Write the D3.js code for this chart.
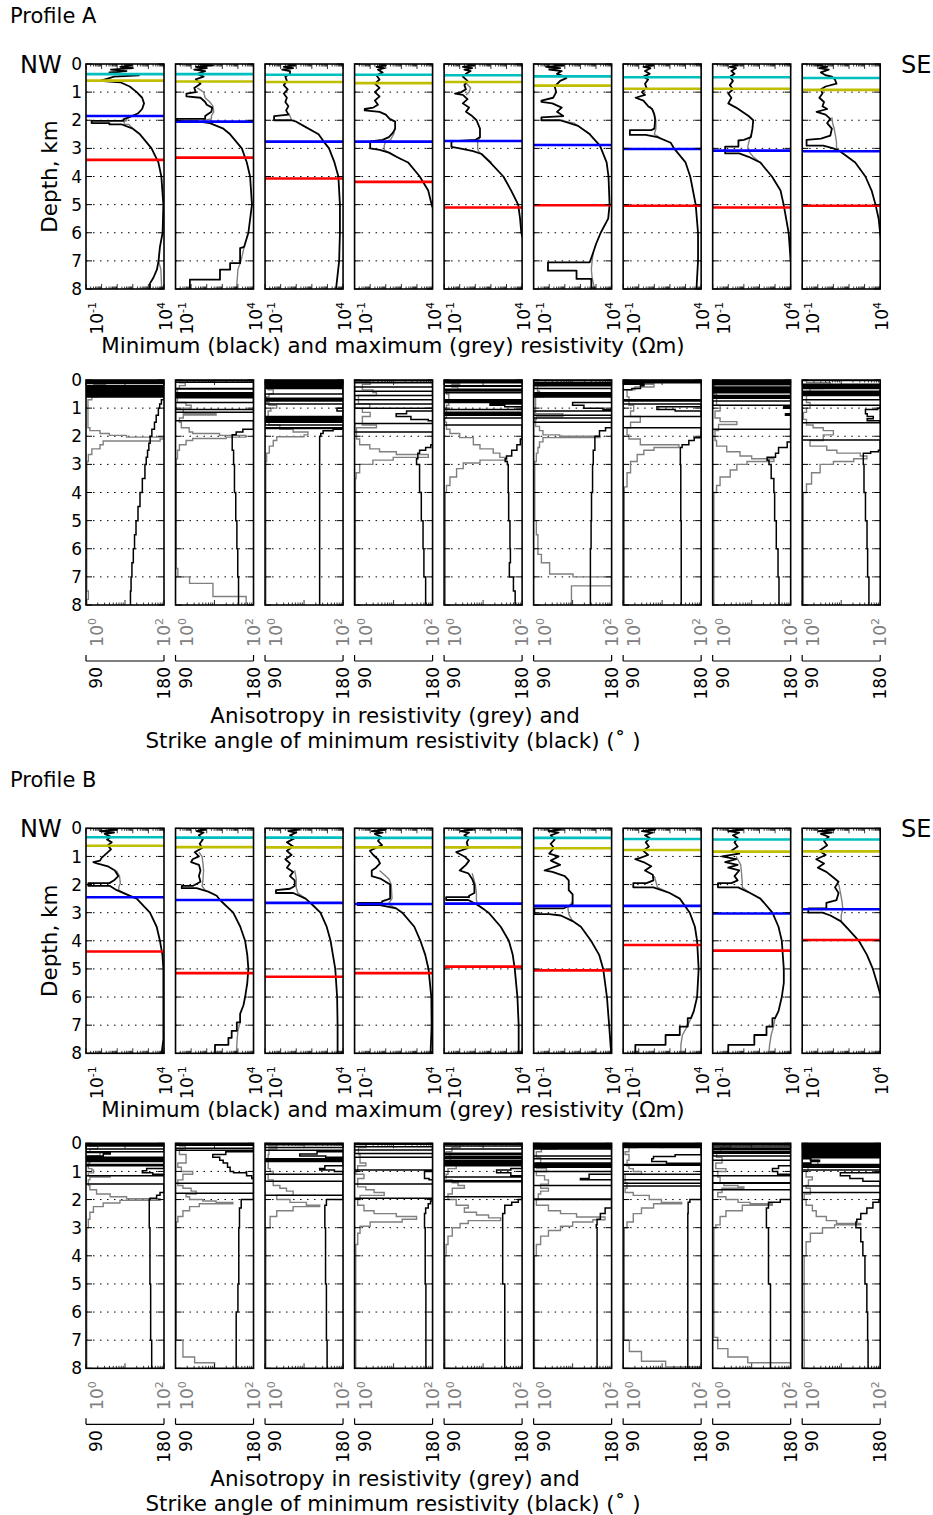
<!DOCTYPE html>
<html>
<head>
<meta charset="utf-8">
<script src="https://cdn.jsdelivr.net/npm/d3@7"></script>
<style>
body { margin: 0; background: #fff; }
text { font-family: "DejaVu Sans", sans-serif; }
</style>
</head>
<body>
<script>
// ---- data: depth (km) and log10 values ----
// minimum resistivity (black), [depth, log10 ohm-m]
var resMinA = [
  [[0,1.5],[0.05,1.9],[0.1,1.2],[0.15,2.0],[0.2,0.6],[0.25,1.6],[0.3,0.5],[0.35,1.3],[0.4,2.4],[0.45,0.8],[0.5,0.5],[0.6,-0.1],[0.65,1.2],[0.8,1.8],[1.0,2.25],[1.2,2.6],[1.4,2.72],[1.6,2.6],[1.75,2.35],[1.85,1.95],[1.97,1.4],[2.02,1.4],[2.02,-0.64],[2.1,-0.64],[2.1,0.5],[2.15,0.5],[2.15,1.3],[2.3,2.0],[2.5,2.46],[3.0,3.2],[3.5,3.64],[4.0,3.83],[5.0,3.96],[6.0,3.91],[6.5,3.74],[7.0,3.65],[7.3,3.55],[7.6,3.32],[7.8,3.1],[8.0,3.1]],
  [[0,0.5],[0.05,1.4],[0.1,0.3],[0.15,1.0],[0.2,0.2],[0.25,0.9],[0.35,0.4],[0.45,0.8],[0.55,0.3],[0.7,0.6],[0.85,0.2],[1.0,0.3],[1.05,-0.3],[1.15,-0.3],[1.2,0.6],[1.35,0.9],[1.45,1.0],[1.55,1.35],[1.7,1.3],[1.85,0.9],[1.95,0.9],[1.95,-0.93],[2.03,-0.93],[2.03,0.3],[2.1,1.2],[2.3,2.07],[2.5,2.5],[3.0,3.25],[3.5,3.57],[4.0,3.78],[5.0,3.9],[6.0,3.67],[6.5,3.4],[6.55,3.14],[7.08,3.14],[7.08,2.5],[7.31,2.5],[7.31,1.85],[7.67,1.85],[7.67,-0.08],[8.0,-0.08]],
  [[0,0.5],[0.05,0.9],[0.1,0.2],[0.15,0.8],[0.2,0.1],[0.25,0.6],[0.35,0.6],[0.45,0.3],[0.6,0.4],[0.75,0.2],[0.9,0.45],[1.05,0.2],[1.2,0.4],[1.35,0.3],[1.5,0.5],[1.65,0.35],[1.8,0.5],[1.85,-0.42],[2.0,-0.42],[2.0,0.7],[2.05,1.0],[2.2,1.47],[2.5,2.43],[2.75,2.75],[3.0,3.1],[3.5,3.45],[4.0,3.7],[5.0,3.8],[6.0,3.8],[7.0,3.75],[8.0,3.55]],
  [[0,0.6],[0.05,1.0],[0.1,0.4],[0.15,0.9],[0.2,0.5],[0.3,0.8],[0.4,0.4],[0.55,0.6],[0.7,0.3],[0.85,0.6],[1.0,0.3],[1.15,0.6],[1.3,0.3],[1.45,0.5],[1.55,0.2],[1.6,-0.35],[1.65,-0.35],[1.7,0.6],[1.8,1.0],[1.95,1.25],[2.05,1.6],[2.3,1.6],[2.45,1.45],[2.6,1.2],[2.7,0.8],[2.75,0.0],[3.0,0.0],[3.05,0.61],[3.15,1.2],[3.3,1.68],[3.5,2.43],[4.0,3.18],[4.5,3.72],[5.0,3.94],[5.4,4.2]],
  [[0,0.5],[0.05,0.9],[0.1,0.2],[0.15,0.8],[0.2,0.3],[0.25,0.7],[0.35,0.4],[0.45,0.2],[0.6,0.5],[0.75,0.3],[0.9,0.4],[1.0,0.1],[1.05,-0.3],[1.1,0.2],[1.25,0.5],[1.4,0.2],[1.55,0.6],[1.7,0.4],[1.85,0.8],[2.0,1.08],[2.3,1.3],[2.6,1.3],[2.7,1.0],[2.75,-0.53],[2.95,-0.53],[3.0,0.0],[3.1,0.86],[3.2,1.4],[3.5,1.95],[4.0,2.8],[4.5,3.3],[5.0,3.75],[5.5,3.87],[6.0,3.95],[6.3,4.1]],
  [[0,0.3],[0.05,0.9],[0.1,-0.2],[0.15,0.7],[0.2,0.0],[0.25,0.8],[0.35,0.5],[0.45,1.0],[0.5,1.1],[0.6,0.7],[0.8,0.35],[1.0,0.45],[1.2,0.25],[1.3,-0.5],[1.35,-0.5],[1.4,0.2],[1.55,0.8],[1.7,0.5],[1.85,0.9],[1.9,-0.5],[2.0,-0.5],[2.0,0.7],[2.2,1.85],[2.5,2.6],[2.9,3.25],[3.5,3.68],[4.0,3.8],[5.0,3.87],[5.5,3.78],[6.0,3.3],[6.4,3.0],[6.7,2.82],[7.05,2.6],[7.05,-0.08],[7.35,-0.08],[7.35,1.75],[7.64,1.75],[7.64,2.7],[8.0,2.7]],
  [[0,0.5],[0.05,0.9],[0.1,0.3],[0.15,0.75],[0.25,0.4],[0.35,0.7],[0.45,0.3],[0.55,0.6],[0.7,0.4],[0.85,0.5],[1.0,0.2],[1.1,0.4],[1.2,-0.2],[1.3,0.3],[1.5,0.6],[1.6,0.86],[1.8,1.0],[2.0,1.05],[2.3,1.0],[2.35,0.8],[2.35,-0.57],[2.52,-0.57],[2.52,0.44],[2.6,1.2],[2.8,2.05],[3.0,2.26],[3.5,3.0],[4.0,3.3],[5.0,3.65],[6.0,3.8],[7.0,3.8],[8.0,3.7]],
  [[0,0.3],[0.05,0.6],[0.1,0.1],[0.15,0.5],[0.25,0.2],[0.35,0.4],[0.45,0.1],[0.6,0.3],[0.75,0.1],[0.9,0.3],[1.05,0.0],[1.2,0.2],[1.4,0.0],[1.55,0.5],[1.7,0.9],[1.85,1.3],[2.0,1.6],[2.3,1.55],[2.6,1.45],[2.7,1.0],[2.72,0.65],[2.94,0.65],[2.94,-0.2],[3.18,-0.2],[3.18,0.7],[3.3,1.3],[3.5,2.05],[4.0,2.8],[4.5,3.35],[5.0,3.55],[6.0,3.87],[7.0,4.0],[7.5,4.2]],
  [[0,0.3],[0.05,0.0],[0.1,0.6],[0.15,0.1],[0.2,0.7],[0.3,0.2],[0.4,0.5],[0.45,0.9],[0.55,1.1],[0.7,1.2],[0.8,0.5],[0.9,0.2],[1.05,0.3],[1.2,0.1],[1.35,0.4],[1.5,0.3],[1.6,0.6],[1.7,-0.08],[1.8,0.5],[1.95,0.8],[2.1,0.6],[2.3,0.9],[2.55,0.8],[2.65,0.2],[2.7,-0.72],[2.9,-0.72],[2.9,0.35],[3.0,1.0],[3.1,1.42],[3.5,2.4],[4.0,3.05],[4.5,3.45],[5.0,3.7],[5.5,3.9],[6.3,4.05]]
];
// maximum resistivity (grey), only the stretches where it leaves the black curve
var resMaxA = [
  [[[1.85,1.95],[1.95,1.6],[2.02,1.6],[2.02,1.45],[2.15,1.45],[2.15,1.75],[2.3,2.0]],[[7.0,3.65],[7.3,3.8],[8.0,3.85]]],
  [[[0.85,0.4],[1.0,0.8],[1.2,0.9],[1.35,1.2],[1.5,1.4],[1.7,1.45],[1.85,1.3],[1.95,1.3],[2.0,0.8],[2.1,1.2]],[[6.5,3.4],[7.0,3.2],[7.3,3.0],[7.7,2.95],[8.0,2.9]]],
  [[[1.75,0.5],[1.85,0.6],[2.0,0.7]]],
  [[[2.3,1.6],[2.5,1.5],[2.7,1.3],[2.75,1.0],[2.9,0.9],[3.05,0.9],[3.2,1.4],[3.4,2.0]]],
  [[[0.7,0.45],[0.85,0.7],[1.0,0.6],[1.1,0.4]],[[2.6,1.3],[2.75,1.15],[3.0,1.15],[3.1,1.2],[3.3,1.6],[3.5,2.05]]],
  [[[2.0,0.7],[2.1,1.6],[2.3,2.1],[2.5,2.65]],[[6.7,2.82],[7.0,2.75],[7.3,2.7],[7.6,2.75],[8.0,2.9]]],
  [[[1.5,0.7],[1.7,0.95],[2.0,1.1],[2.3,1.1],[2.5,1.0],[2.6,1.3]]],
  [[[2.5,1.45],[2.7,1.35],[2.95,1.25],[3.1,1.3],[3.3,1.6],[3.5,2.05]]],
  [[[1.9,0.9],[2.1,0.95],[2.3,1.05],[2.6,1.15],[2.8,1.2],[3.0,1.2],[3.1,1.42]]]
];
var resMinB = [
  [[0,0.4],[0.05,1.0],[0.1,-0.1],[0.15,0.8],[0.2,0.2],[0.3,0.6],[0.4,0.35],[0.5,0.65],[0.6,0.4],[0.75,0.6],[0.9,0.3],[1.05,0.0],[1.15,-0.1],[1.2,-0.53],[1.25,-0.3],[1.35,0.4],[1.5,0.85],[1.7,1.07],[1.85,0.8],[1.95,0.5],[1.95,-0.85],[2.05,-0.85],[2.05,0.54],[2.2,0.97],[2.35,1.6],[2.5,2.25],[3.0,3.1],[3.5,3.53],[4.0,3.74],[4.5,3.9],[5.0,3.96],[7.5,3.96],[8.0,3.85]],
  [[0,0.5],[0.05,0.9],[0.1,0.35],[0.15,0.8],[0.25,0.5],[0.4,0.75],[0.55,0.55],[0.7,0.7],[0.85,0.23],[1.0,0.5],[1.1,0.1],[1.2,0.0],[1.3,0.5],[1.5,0.6],[1.7,0.5],[1.9,0.6],[2.05,0.1],[2.05,-0.6],[2.13,-0.6],[2.13,0.35],[2.25,1.1],[2.4,1.64],[2.55,1.85],[3.0,2.7],[3.5,3.15],[4.0,3.46],[4.5,3.6],[5.0,3.67],[5.5,3.6],[6.0,3.46],[6.3,3.35],[6.6,3.14],[6.9,3.14],[6.9,2.93],[7.2,2.93],[7.2,2.6],[7.45,2.6],[7.45,2.39],[7.7,2.39],[7.7,1.53],[8.0,1.53]],
  [[0,0.8],[0.05,1.2],[0.1,0.5],[0.15,1.0],[0.25,0.6],[0.35,0.9],[0.5,0.4],[0.65,0.8],[0.8,0.4],[0.95,0.7],[1.1,0.3],[1.25,0.6],[1.4,0.4],[1.55,0.8],[1.7,0.6],[1.85,0.9],[2.05,0.9],[2.15,0.6],[2.2,-0.3],[2.3,-0.3],[2.3,0.8],[2.5,1.6],[2.7,2.0],[3.0,2.55],[3.5,2.95],[4.0,3.2],[5.0,3.5],[6.0,3.62],[7.0,3.65],[8.0,3.65]],
  [[0,0.5],[0.05,1.0],[0.1,0.1],[0.15,0.8],[0.2,0.3],[0.3,0.7],[0.45,0.5],[0.6,0.76],[0.8,-0.02],[0.95,0.2],[1.1,0.5],[1.25,0.63],[1.4,0.37],[1.5,0.1],[1.7,0.1],[1.8,0.7],[2.0,1.28],[2.5,1.28],[2.6,0.76],[2.65,0.76],[2.65,-0.8],[2.73,-0.8],[2.73,0.63],[2.85,1.67],[3.0,2.06],[3.5,2.83],[4.0,3.22],[4.5,3.53],[5.0,3.74],[6.0,3.92],[7.0,3.94],[8.0,3.87]],
  [[0,0.3],[0.05,0.8],[0.1,0.05],[0.15,0.6],[0.25,0.3],[0.35,0.6],[0.5,0.45],[0.7,0.55],[0.85,-0.22],[1.0,0.3],[1.15,0.6],[1.3,0.4],[1.5,0.0],[1.6,0.55],[1.8,0.8],[2.0,0.94],[2.3,0.94],[2.4,0.6],[2.45,0.6],[2.45,-0.87],[2.55,-0.87],[2.55,0.55],[2.7,1.07],[2.9,1.6],[3.0,1.85],[3.5,2.63],[4.0,3.15],[4.5,3.4],[5.0,3.53],[6.0,3.7],[7.0,3.78],[8.0,3.78]],
  [[0,0.2],[0.05,0.7],[0.1,-0.04],[0.15,0.6],[0.25,0.1],[0.4,0.35],[0.55,0.09],[0.7,0.3],[0.9,0.0],[1.0,0.6],[1.15,0.1],[1.3,0.7],[1.5,-0.3],[1.55,0.2],[1.7,1.0],[1.85,1.25],[2.2,1.25],[2.35,1.5],[2.7,1.5],[2.85,0.9],[2.85,-0.95],[3.05,-0.95],[3.05,0.0],[3.1,0.74],[3.3,1.5],[3.5,2.03],[4.0,2.68],[4.5,3.2],[5.0,3.46],[6.0,3.7],[7.0,3.84],[8.0,3.97]],
  [[0,0.6],[0.05,1.07],[0.1,0.2],[0.15,0.9],[0.25,0.4],[0.35,0.7],[0.5,0.45],[0.65,0.65],[0.8,0.3],[0.95,0.6],[1.05,0.1],[1.1,-0.22],[1.2,0.3],[1.35,0.8],[1.5,0.4],[1.65,0.9],[1.85,0.94],[1.95,0.5],[1.95,-0.35],[2.1,-0.35],[2.1,0.94],[2.3,1.98],[2.5,2.63],[3.0,3.27],[3.5,3.6],[4.0,3.74],[5.0,3.84],[6.0,3.74],[6.5,3.53],[6.75,3.35],[6.75,3.14],[7.05,3.14],[7.05,2.63],[7.35,2.63],[7.35,1.72],[7.7,1.72],[7.7,-0.22],[8.0,-0.22]],
  [[0,0.3],[0.05,0.9],[0.1,0.0],[0.15,0.7],[0.25,0.3],[0.35,0.6],[0.5,0.4],[0.65,0.6],[0.8,0.2],[0.9,0.7],[1.0,-0.4],[1.1,0.5],[1.2,-0.2],[1.3,0.6],[1.4,0.0],[1.5,0.7],[1.7,0.4],[1.85,0.6],[1.95,0.2],[1.95,-0.66],[2.1,-0.66],[2.1,0.63],[2.3,1.4],[2.5,2.06],[3.0,2.83],[3.5,3.22],[4.0,3.43],[5.0,3.56],[5.5,3.56],[6.0,3.43],[6.5,3.22],[6.75,3.0],[6.75,2.83],[7.05,2.83],[7.05,2.45],[7.35,2.45],[7.35,1.67],[7.7,1.67],[7.7,0.0],[8.0,0.0]],
  [[0,0.5],[0.05,1.07],[0.1,0.04],[0.15,0.9],[0.2,0.2],[0.3,0.7],[0.45,0.4],[0.6,0.6],[0.8,0.1],[0.95,0.5],[1.1,-0.1],[1.25,0.4],[1.4,0.0],[1.55,0.55],[1.75,1.0],[1.9,1.33],[2.1,1.1],[2.3,1.33],[2.55,1.2],[2.65,0.55],[2.85,0.55],[2.85,-0.61],[3.0,-0.61],[3.0,0.3],[3.1,0.81],[3.3,1.46],[3.6,1.98],[4.0,2.63],[4.5,3.15],[5.0,3.53],[5.5,3.8],[5.9,4.0],[6.2,4.2]]
];
var resMaxB = [
  [[[1.5,0.95],[1.7,1.15],[1.95,1.2],[2.1,1.1],[2.2,1.1],[2.35,1.6]]],
  [[[0.85,0.5],[1.0,0.7],[1.2,0.75],[1.5,0.8],[1.9,0.75],[2.05,0.7],[2.2,0.9]],[[6.9,3.14],[7.2,3.0],[7.5,2.95],[8.0,2.9]]],
  [[[1.5,0.9],[1.8,1.0],[2.1,1.0],[2.3,1.1],[2.5,1.6]]],
  [[[1.5,0.6],[1.8,1.2],[2.0,1.35],[2.5,1.4],[2.7,1.15],[2.85,1.67]]],
  [[[1.6,0.8],[2.0,1.0],[2.3,1.07],[2.55,1.07],[2.7,1.15],[2.9,1.6]]],
  [[[2.6,1.5],[2.85,1.2],[3.05,1.25],[3.2,1.4],[3.3,1.5]]],
  [[[1.7,1.0],[1.9,1.1],[2.1,1.2],[2.3,1.98]],[[6.75,3.35],[7.05,3.1],[7.35,2.8],[7.7,2.7],[8.0,2.7]]],
  [[[1.0,0.5],[1.3,0.8],[1.6,0.85],[1.95,0.9],[2.1,0.9],[2.3,1.4]],[[6.75,3.0],[7.05,2.9],[7.35,2.75],[7.7,2.65],[8.0,2.6]]],
  [[[2.0,1.35],[2.3,1.45],[2.6,1.55],[2.85,1.6],[3.1,1.5],[3.3,1.5],[3.6,1.98]]]
];

// horizon depths (km) per panel
var cyanA  = [0.36, 0.36, 0.38, 0.38, 0.40, 0.44, 0.47, 0.47, 0.50];
var oliveA = [0.59, 0.62, 0.64, 0.68, 0.64, 0.77, 0.88, 0.88, 0.92];
var blueA  = [1.85, 2.05, 2.76, 2.76, 2.74, 2.88, 3.02, 3.08, 3.10];
var redA   = [3.41, 3.33, 4.07, 4.19, 5.10, 5.02, 5.04, 5.10, 5.04];
var cyanB  = [0.32, 0.33, 0.33, 0.34, 0.34, 0.34, 0.38, 0.40, 0.40];
var oliveB = [0.62, 0.67, 0.68, 0.68, 0.68, 0.71, 0.77, 0.83, 0.82];
var blueB  = [2.45, 2.55, 2.65, 2.69, 2.68, 2.76, 2.76, 3.03, 2.88];
var redB   = [4.38, 5.15, 5.28, 5.15, 4.92, 5.05, 4.15, 4.35, 3.97];

// anisotropy (grey), layer tops [depth, log10 ratio]
var anisoA = [
  [[0,0.1],[0.1,0.5],[0.15,0.2],[0.25,0.9],[0.3,0.1],[0.4,0.96],[0.45,0.3],[0.6,0.15],[0.7,0.05],[1.7,0.1],[1.8,0.36],[1.9,0.6],[1.97,1.04],[2.03,2.0],[2.1,1.9],[2.17,0.44],[2.3,0.36],[2.45,0.15],[2.65,0.06],[2.9,0.02],[7.5,0.06],[7.8,0.02]],
  [[0,0.1],[0.1,0.25],[0.2,0.1],[0.3,0.05],[0.8,0.27],[0.9,0.4],[1.0,0.2],[1.2,1.04],[1.25,0.2],[1.35,0.1],[1.5,0.15],[1.7,0.35],[1.85,0.44],[1.9,1.13],[1.97,1.8],[2.03,1.3],[2.08,0.44],[2.15,0.27],[2.3,0.1],[2.5,0.05],[2.8,0.02],[6.7,0.06],[7.0,0.36],[7.23,0.96],[7.7,1.81]],
  [[0,0.1],[0.1,0.2],[0.2,0.08],[0.35,0.21],[0.5,0.1],[0.6,0.04],[0.8,0.1],[0.9,0.3],[1.0,0.15],[1.1,0.08],[1.4,0.21],[1.5,0.1],[1.6,0.38],[1.75,0.72],[1.85,1.1],[1.95,1.0],[2.02,0.3],[2.15,0.21],[2.35,0.11],[2.6,0.04],[2.9,0.02]],
  [[0,0.05],[0.05,0.4],[0.15,0.2],[0.35,0.47],[0.45,0.56],[0.55,0.1],[0.85,0.39],[1.0,0.2],[1.15,0.4],[1.3,0.2],[1.6,0.56],[1.7,0.05],[2.1,0.13],[2.3,0.39],[2.45,0.64],[2.55,1.07],[2.65,1.89],[2.75,0.99],[2.85,0.47],[3.0,0.13],[3.3,0.04],[3.5,0.02]],
  [[0,0.1],[0.1,0.4],[0.15,0.2],[0.25,0.35],[0.35,0.06],[0.5,0.12],[0.9,0.06],[1.35,0.02],[1.5,0.06],[1.75,0.15],[1.9,0.4],[2.05,0.75],[2.3,0.92],[2.45,1.26],[2.6,1.43],[2.75,1.6],[2.85,0.92],[2.95,0.49],[3.15,0.32],[3.45,0.15],[3.75,0.06],[4.0,0.03]],
  [[0,0.1],[0.1,0.3],[0.2,0.1],[0.4,0.15],[0.5,0.25],[0.6,0.05],[1.2,0.75],[1.3,0.07],[1.4,0.05],[1.65,0.15],[1.8,0.24],[1.95,0.67],[2.0,1.7],[2.05,0.24],[2.2,0.15],[2.4,0.11],[2.6,0.07],[2.9,0.03],[5.0,0.07],[5.5,0.11],[6.2,0.2],[6.5,0.41],[6.9,1.01],[7.0,2.0],[7.32,0.97]],
  [[0,0.1],[0.05,0.79],[0.1,0.3],[0.15,0.79],[0.25,0.3],[0.35,0.1],[0.6,0.15],[0.9,0.27],[1.1,0.19],[1.3,0.44],[1.5,0.19],[1.7,0.1],[1.95,0.15],[2.1,0.44],[2.3,1.43],[2.4,0.79],[2.5,0.53],[2.65,0.36],[2.9,0.19],[3.3,0.1],[3.8,0.03]],
  [[0,0.05],[0.5,0.1],[0.9,0.19],[1.1,0.06],[1.35,0.19],[1.48,0.62],[1.58,0.15],[1.8,0.06],[2.15,0.1],[2.35,0.36],[2.55,0.7],[2.7,1.0],[2.8,1.57],[2.9,0.88],[3.0,0.62],[3.2,0.45],[3.45,0.19],[3.75,0.1],[4.0,0.03]],
  [[0,0.11],[0.1,0.72],[0.2,0.54],[0.3,0.2],[0.45,0.11],[0.8,0.2],[1.0,0.11],[1.15,0.03],[1.4,0.11],[1.6,0.28],[1.7,0.54],[1.8,0.8],[1.95,0.54],[2.15,0.2],[2.35,0.63],[2.5,0.89],[2.6,1.49],[2.7,1.66],[2.8,1.32],[2.9,0.8],[3.0,0.46],[3.3,0.24],[3.7,0.11],[4.0,0.03]]
];
var anisoB = [
  [[0,0.1],[0.1,0.3],[0.2,0.1],[0.3,0.36],[0.45,0.1],[0.7,0.06],[0.9,0.15],[0.95,0.19],[1.05,0.06],[1.15,0.62],[1.2,0.1],[1.3,0.06],[1.5,0.1],[1.65,0.27],[1.8,0.62],[1.9,1.04],[1.97,1.9],[2.03,0.87],[2.12,0.44],[2.25,0.19],[2.45,0.1],[2.7,0.06],[3.0,0.02]],
  [[0,0.1],[0.1,0.25],[0.2,0.1],[0.4,0.27],[0.7,0.06],[0.85,0.15],[1.0,0.44],[1.1,0.19],[1.3,0.06],[1.5,0.19],[1.6,0.4],[1.7,0.53],[1.8,0.27],[1.9,0.36],[2.0,0.7],[2.05,1.04],[2.1,1.47],[2.15,0.61],[2.25,0.36],[2.4,0.19],[2.6,0.06],[2.8,0.02],[7.0,0.19],[7.6,0.49],[7.8,1.0]],
  [[0,0.1],[0.1,0.3],[0.2,0.1],[0.4,0.08],[0.9,0.13],[1.0,0.21],[1.1,0.08],[1.3,0.21],[1.5,0.38],[1.6,0.55],[1.7,0.72],[1.85,0.3],[2.0,0.64],[2.1,1.06],[2.2,1.4],[2.25,0.72],[2.4,0.3],[2.6,0.13],[3.0,0.02]],
  [[0,0.03],[0.05,0.29],[0.15,0.1],[0.4,0.14],[0.7,0.29],[0.8,0.08],[1.0,0.03],[1.1,0.24],[1.25,0.08],[1.55,0.29],[1.65,0.5],[1.75,0.76],[1.85,0.14],[2.0,0.08],[2.2,0.24],[2.4,0.5],[2.5,1.07],[2.6,1.59],[2.7,1.22],[2.8,0.4],[2.95,0.14],[3.2,0.08],[3.6,0.03]],
  [[0,0.05],[0.05,0.41],[0.15,0.2],[0.3,0.05],[0.4,0.16],[0.7,0.31],[0.9,0.1],[1.1,0.05],[1.3,0.21],[1.4,0.36],[1.5,0.52],[1.6,0.21],[1.8,0.1],[2.0,0.31],[2.2,0.62],[2.3,0.52],[2.45,0.83],[2.55,1.14],[2.65,1.45],[2.75,0.62],[2.85,0.41],[3.0,0.21],[3.3,0.1],[3.6,0.05],[4.0,0.02]],
  [[0,0.07],[0.1,0.59],[0.2,0.2],[0.3,0.07],[0.5,0.18],[0.7,0.07],[0.9,0.33],[1.0,0.07],[1.15,0.28],[1.3,0.38],[1.45,0.18],[1.6,0.38],[1.7,0.18],[1.8,0.12],[2.0,0.07],[2.2,0.38],[2.4,0.69],[2.5,1.1],[2.62,1.83],[2.72,1.52],[2.8,1.0],[2.95,0.69],[3.1,0.38],[3.3,0.18],[3.6,0.07],[4.0,0.02]],
  [[0,0.05],[0.05,0.36],[0.15,0.15],[0.3,0.05],[0.4,0.15],[0.6,0.1],[0.8,0.15],[0.9,0.26],[1.0,0.47],[1.1,0.05],[1.4,0.1],[1.6,0.05],[1.75,0.26],[1.85,0.67],[2.0,0.98],[2.1,1.5],[2.15,0.78],[2.3,0.47],[2.5,0.26],[2.8,0.1],[3.0,0.03],[7.0,0.16],[7.4,0.47],[7.75,1.09],[7.95,2.0]],
  [[0,0.05],[0.05,0.45],[0.15,0.2],[0.3,0.1],[0.5,0.24],[0.7,0.08],[0.9,0.34],[1.0,0.13],[1.2,0.19],[1.4,0.29],[1.5,0.65],[1.55,0.8],[1.6,0.24],[1.75,0.13],[1.9,0.34],[2.0,0.65],[2.1,0.96],[2.15,1.53],[2.2,0.76],[2.4,0.34],[2.6,0.19],[2.9,0.08],[3.0,0.03],[6.9,0.13],[7.3,0.39],[7.6,0.9],[7.8,2.0]],
  [[0,0.1],[0.2,0.3],[0.4,0.2],[0.6,0.4],[0.8,0.15],[1.0,0.1],[1.2,0.26],[1.3,0.16],[1.5,0.1],[1.6,0.21],[1.8,0.05],[2.0,0.1],[2.2,0.26],[2.4,0.36],[2.6,0.62],[2.75,0.88],[2.85,1.5],[2.9,0.83],[3.0,0.52],[3.2,0.21],[3.5,0.1],[4.0,0.05]]
];

// strike angle of minimum resistivity (black), layer tops [depth, degrees]
var strikeA = [
  [[0,180],[0.02,90],[0.05,180],[0.08,90],[0.12,180],[0.2,90],[0.25,180],[0.3,90],[0.35,180],[0.38,90],[0.41,180],[0.45,90],[0.5,180],[0.55,90],[0.6,180],[0.7,177],[0.85,175],[1.0,173.5],[1.25,171],[1.5,169],[1.75,166],[2.0,164],[2.25,162.5],[2.5,161],[2.75,159.5],[3.0,158],[3.5,155],[4.0,152.3],[4.5,150],[5.0,147.7],[5.5,146],[6.0,144.6],[6.5,143],[7.0,142],[7.5,141.3],[8.0,140.8]],
  [[0,180],[0.02,90],[0.08,180],[0.3,90],[0.32,180],[0.45,90],[0.5,180],[0.53,90],[0.57,180],[0.6,90],[0.63,180],[0.8,90],[1.05,180],[1.15,90],[1.45,180],[1.75,167.7],[1.85,160],[1.95,155.4],[2.5,157],[3.0,158],[4.0,159.5],[5.0,160.8],[6.0,161.8],[7.0,162.7],[8.0,163.8]],
  [[0,180],[0.02,90],[0.05,180],[0.1,90],[0.15,180],[0.2,90],[0.23,180],[0.27,90],[0.3,180],[0.5,90],[0.65,180],[0.68,90],[0.72,180],[0.75,90],[0.85,180],[1.0,173],[1.1,180],[1.3,90],[1.35,180],[1.4,90],[1.45,180],[1.5,90],[1.6,180],[1.7,90],[1.72,180],[1.75,168.5],[1.8,157],[1.9,154.3],[2.0,153],[8.0,152.5]],
  [[0,180],[0.03,90],[0.1,180],[0.25,90],[0.4,180],[0.55,90],[0.7,180],[0.85,90],[1.0,180],[1.1,150],[1.2,138],[1.3,155],[1.4,175],[1.45,180],[1.55,90],[1.85,180],[2.3,178],[2.4,172],[2.5,165],[2.6,163],[2.8,161.5],[3.0,165],[4.0,167],[5.0,169],[6.0,170],[7.0,172],[8.0,173]],
  [[0,180],[0.03,90],[0.07,180],[0.1,90],[0.2,180],[0.22,90],[0.33,180],[0.36,90],[0.39,180],[0.45,90],[0.7,180],[0.75,90],[0.8,180],[0.85,143],[0.9,160],[0.95,180],[1.05,90],[1.15,180],[1.2,90],[1.25,180],[1.35,90],[1.6,180],[2.1,178],[2.3,174],[2.5,168],[2.7,162],[2.8,160.5],[2.9,163],[3.0,164],[4.0,164.5],[5.0,166],[6.0,166.5],[6.5,165.3],[7.0,170],[7.5,172],[8.0,173.8]],
  [[0,180],[0.03,90],[0.1,180],[0.13,90],[0.17,180],[0.2,90],[0.3,180],[0.45,90],[0.5,180],[0.55,90],[0.6,180],[0.8,135],[0.9,148],[1.0,170],[1.05,180],[1.1,90],[1.25,180],[1.35,90],[1.5,180],[1.7,173],[1.8,166],[2.0,160.7],[2.5,158.8],[3.0,158],[4.0,156.8],[5.0,156.3],[6.0,155.5],[7.0,155.5],[8.0,156]],
  [[0,180],[0.03,90],[0.06,180],[0.1,90],[0.15,114],[0.2,110],[0.3,100],[0.35,90],[0.7,180],[0.75,90],[0.85,180],[0.95,129],[1.05,150],[1.1,180],[1.3,90],[1.7,180],[2.05,172],[2.15,165.8],[2.3,158],[2.4,156],[3.0,156.5],[5.0,157],[8.0,158]],
  [[0,180],[0.02,90],[0.05,180],[0.08,90],[0.12,180],[0.17,90],[0.25,180],[0.27,90],[0.29,180],[0.31,90],[0.33,180],[0.35,90],[0.4,180],[0.45,90],[0.55,180],[0.6,90],[0.65,180],[0.75,90],[0.9,180],[0.95,172],[1.0,180],[1.2,174],[1.25,180],[1.75,90],[1.75,180],[2.2,176],[2.4,166],[2.6,162.5],[2.75,152.8],[2.85,155],[3.0,157.5],[3.5,160.6],[4.0,161.5],[5.0,163.4],[6.0,165.4],[7.0,166.5],[8.0,168.4]],
  [[0,180],[0.02,90],[0.15,180],[0.2,90],[0.23,180],[0.27,90],[0.3,180],[0.4,90],[0.45,180],[0.5,90],[0.55,180],[0.7,90],[0.9,180],[1.0,177],[1.05,163],[1.2,165],[1.3,172],[1.38,165],[1.45,180],[1.52,90],[2.13,180],[2.5,178],[2.55,169],[2.6,160.5],[3.0,161.3],[4.0,163],[5.0,164.8],[6.0,165.5],[7.0,167],[8.0,168]]
];
var strikeB = [
  [[0,180],[0.03,90],[0.07,180],[0.1,90],[0.2,180],[0.3,90],[0.33,118],[0.38,110],[0.45,90],[0.5,180],[0.55,90],[0.58,180],[0.62,90],[0.65,180],[0.75,90],[0.8,180],[0.9,160],[0.98,155],[1.05,167],[1.1,180],[1.15,90],[1.45,180],[1.75,175.4],[1.85,171.5],[1.95,163.8],[2.0,163],[3.0,163.8],[5.0,164.6],[7.0,165.8],[8.0,166.5]],
  [[0,180],[0.03,90],[0.07,180],[0.18,90],[0.25,180],[0.3,148],[0.4,133],[0.5,141],[0.6,145],[0.7,150],[0.85,153],[1.0,157],[1.05,172],[1.15,178],[1.25,180],[1.42,90],[1.42,180],[1.78,90],[1.78,180],[2.0,165.8],[2.3,163.8],[3.0,163],[5.0,162],[6.0,160],[8.0,160]],
  [[0,180],[0.02,90],[0.05,180],[0.15,90],[0.25,180],[0.3,150],[0.38,130],[0.45,160],[0.5,180],[0.55,90],[0.58,180],[0.62,90],[0.65,180],[0.8,159],[0.9,153],[0.95,170],[1.0,180],[1.1,90],[1.35,180],[1.85,90],[1.85,180],[2.0,160.8],[2.2,159],[3.0,159.8],[5.0,160.8],[7.0,161.6],[8.0,162.8]],
  [[0,180],[0.03,90],[0.12,180],[0.24,90],[0.36,180],[0.5,90],[0.95,180],[1.0,170.7],[1.25,176],[1.3,180],[1.45,90],[1.45,180],[1.95,90],[1.95,180],[2.05,177.7],[2.15,175],[2.3,172],[2.5,170.7],[3.0,171.5],[5.0,172.3],[8.0,173]],
  [[0,180],[0.03,90],[0.1,180],[0.2,90],[0.35,180],[0.4,90],[0.47,180],[0.5,90],[0.53,180],[0.6,90],[0.63,180],[0.67,90],[0.7,180],[0.75,90],[0.8,180],[0.9,167],[0.95,150.6],[1.05,167],[1.15,180],[1.2,90],[1.2,180],[1.33,90],[1.37,180],[1.9,90],[1.9,180],[2.0,175.6],[2.1,168],[2.2,160],[2.5,157.6],[3.0,157.6],[5.0,160],[8.0,167]],
  [[0,180],[0.02,90],[0.05,180],[0.08,90],[0.11,180],[0.15,90],[0.2,180],[0.45,90],[0.55,180],[0.7,90],[0.75,180],[0.78,90],[0.82,180],[0.85,90],[1.0,180],[1.1,154],[1.25,144],[1.3,180],[1.5,90],[1.5,180],[1.98,90],[2.0,180],[2.3,172.5],[2.5,167],[2.7,163.2],[2.9,162.3],[3.0,163.2],[8.0,162.3]],
  [[0,180],[0.02,90],[0.06,180],[0.1,90],[0.15,180],[0.41,150],[0.47,125],[0.55,123],[0.65,140],[0.71,180],[0.75,90],[0.78,180],[1.1,90],[1.1,180],[1.3,90],[1.3,180],[1.42,90],[1.42,180],[1.52,90],[1.52,180],[2.0,167],[2.1,165],[2.5,164.6],[8.0,164.6]],
  [[0,180],[0.03,90],[0.1,180],[0.17,90],[0.2,180],[0.23,90],[0.3,180],[0.35,90],[0.45,180],[0.6,90],[0.6,180],[0.8,166],[0.9,159],[1.0,165],[1.1,180],[1.15,90],[1.15,180],[1.4,90],[1.42,180],[1.65,90],[1.65,180],[2.0,168],[2.1,154.4],[2.3,152],[3.0,154.4],[5.0,156.7],[8.0,159]],
  [[0,180],[0.02,90],[0.04,180],[0.06,90],[0.08,180],[0.1,90],[0.12,180],[0.14,90],[0.16,180],[0.2,90],[0.22,180],[0.24,90],[0.26,180],[0.28,90],[0.3,180],[0.33,90],[0.36,180],[0.39,90],[0.42,180],[0.45,90],[0.48,180],[0.51,90],[0.55,100],[0.6,110],[0.65,100],[0.7,90],[0.75,180],[0.8,90],[0.85,180],[0.95,90],[0.95,180],[1.05,134],[1.15,145],[1.25,160],[1.35,180],[1.52,90],[1.52,180],[1.75,90],[1.75,180],[2.0,178.6],[2.1,171.6],[2.3,164.6],[2.5,157.6],[2.7,153],[2.8,152],[3.0,157.6],[3.5,160],[4.0,162.4],[5.0,164.6],[6.0,165.5],[7.0,166],[8.0,167]]
];

var depthTicks = [0, 1, 2, 3, 4, 5, 6, 7, 8];
var resTickLabels = [["10", "-1"], ["10", "4"]];
var anisoTickLabels = [["10", "0"], ["10", "2"]];
var strikeTickLabels = ["90", "180"];
var horizonColors = ["#00bfbf", "#bfbf00", "#0000ff", "#ff0000"];

// ---- layout ----
var svg = d3.select("body").append("svg").attr("width", 933).attr("height", 1515);
var panelW = 78, panelH = 225;
var colX = d3.scaleLinear().domain([0, 8]).range([86, 802.2]);
var depthY = d3.scaleLinear().domain([0, 8]).range([0, panelH]);
var resX = d3.scaleLog().domain([0.1, 1e4]).range([0, panelW]);
var aniX = d3.scaleLog().domain([1, 100]).range([0, panelW]);
var strX = d3.scaleLinear().domain([90, 180]).range([0, panelW]);

var resLine = d3.line().x(function(d){ return resX(Math.pow(10, d[1])); }).y(function(d){ return depthY(d[0]); });
var aniLine = d3.line().x(function(d){ return aniX(Math.pow(10, d[1])); }).y(function(d){ return depthY(d[0]); }).curve(d3.curveStepBefore);
var strLine = d3.line().x(function(d){ return strX(d[1]); }).y(function(d){ return depthY(d[0]); }).curve(d3.curveStepBefore);

// last layer runs to the bottom of the model
function toBottom(arr) {
  var last = arr[arr.length - 1];
  return last[0] < 8 ? arr.concat([[8, last[1]]]) : arr;
}

var clipCount = 0;
function makePanel(x, top) {
  var id = "clip" + (clipCount++);
  svg.append("clipPath").attr("id", id).append("rect").attr("width", panelW).attr("height", panelH);
  var g = svg.append("g").attr("transform", "translate(" + x + "," + top + ")");
  var inner = g.append("g").attr("clip-path", "url(#" + id + ")");
  // dotted km lines
  inner.selectAll(".grid").data(d3.range(1, 8)).enter().append("line")
    .attr("x1", 0).attr("x2", panelW)
    .attr("y1", function(d){ return depthY(d); }).attr("y2", function(d){ return depthY(d); })
    .attr("stroke", "#000").attr("stroke-width", 1).attr("stroke-dasharray", "1.5,5.5");
  return {g: g, inner: inner};
}

function finishPanel(g, xs) {
  // depth ticks on both sides
  depthTicks.forEach(function(d) {
    var y = depthY(d);
    g.append("line").attr("x1", 0).attr("x2", 6).attr("y1", y).attr("y2", y).attr("stroke", "#000");
    g.append("line").attr("x1", panelW - 6).attr("x2", panelW).attr("y1", y).attr("y2", y).attr("stroke", "#000");
  });
  // log ticks top and bottom
  xs.ticks().forEach(function(t) {
    var major = Math.abs(Math.log10(t) - Math.round(Math.log10(t))) < 1e-6;
    var len = major ? 5 : 2.5;
    var x = xs(t);
    g.append("line").attr("x1", x).attr("x2", x).attr("y1", panelH).attr("y2", panelH - len).attr("stroke", "#000").attr("stroke-width", 0.8);
    g.append("line").attr("x1", x).attr("x2", x).attr("y1", 0).attr("y2", len).attr("stroke", "#000").attr("stroke-width", 0.8);
  });
  g.append("rect").attr("width", panelW).attr("height", panelH)
    .attr("fill", "none").attr("stroke", "#000").attr("stroke-width", 1.6);
}

function rotLabel(x, y, parts, color) {
  var t = svg.append("text").attr("transform", "translate(" + x + "," + y + ") rotate(-90)")
    .attr("text-anchor", "end").attr("font-size", 17).attr("fill", color);
  t.append("tspan").text(parts[0]);
  if (parts[1]) t.append("tspan").attr("font-size", 11).attr("dy", -7).text(parts[1]);
}

function depthLabels(top) {
  depthTicks.forEach(function(d) {
    svg.append("text").attr("x", 82).attr("y", top + depthY(d)).attr("dy", "0.36em")
      .attr("text-anchor", "end").attr("font-size", 17).text(d);
  });
}

function resRow(top, minData, maxData, horizons, profileName) {
  for (var i = 0; i < 9; i++) {
    var x = colX(i);
    var p = makePanel(x, top);
    maxData[i].forEach(function(seg) {
      p.inner.append("path").attr("d", resLine(seg)).attr("fill", "none")
        .attr("stroke", "#808080").attr("stroke-width", 1.4);
    });
    p.inner.append("path").attr("d", resLine(minData[i])).attr("fill", "none")
      .attr("stroke", "#000").attr("stroke-width", 1.8).attr("stroke-linejoin", "round");
    horizons.forEach(function(h, k) {
      var y = depthY(h[i]);
      p.inner.append("line").attr("x1", 0).attr("x2", panelW).attr("y1", y).attr("y2", y)
        .attr("stroke", horizonColors[k]).attr("stroke-width", 2.6);
    });
    finishPanel(p.g, resX);
    rotLabel(x + 17, top + panelH + 13, resTickLabels[0], "#000");
    rotLabel(x + panelW + 8, top + panelH + 13, resTickLabels[1], "#000");
  }
  depthLabels(top);
  svg.append("text").attr("transform", "translate(57," + (top + panelH / 2) + ") rotate(-90)")
    .attr("text-anchor", "middle").attr("font-size", 21.5).text("Depth, km");
  svg.append("text").attr("x", 20).attr("y", top + 9).attr("font-size", 24).text("NW");
  svg.append("text").attr("x", 901).attr("y", top + 9).attr("font-size", 24).text("SE");
  svg.append("text").attr("x", 10).attr("y", top - 41).attr("font-size", 21).text(profileName);
  svg.append("text").attr("x", 393).attr("y", top + panelH + 64).attr("text-anchor", "middle")
    .attr("font-size", 21.4).text("Minimum (black) and maximum (grey) resistivity (\u03A9m)");
}

function aniRow(top, aniData, strData) {
  var spineY = top + panelH + 56;
  for (var i = 0; i < 9; i++) {
    var x = colX(i);
    var p = makePanel(x, top);
    p.inner.append("path").attr("d", aniLine(toBottom(aniData[i]))).attr("fill", "none")
      .attr("stroke", "#808080").attr("stroke-width", 1.4);
    p.inner.append("path").attr("d", strLine(toBottom(strData[i]))).attr("fill", "none")
      .attr("stroke", "#000").attr("stroke-width", 1.5);
    finishPanel(p.g, aniX);
    rotLabel(x + 17, top + panelH + 13, anisoTickLabels[0], "#808080");
    rotLabel(x + panelW + 6, top + panelH + 13, anisoTickLabels[1], "#808080");
    // strike axis
    svg.append("line").attr("x1", x).attr("x2", x + panelW).attr("y1", spineY).attr("y2", spineY).attr("stroke", "#000").attr("stroke-width", 1.2);
    [90, 180].forEach(function(v) {
      var sx = x + strX(v);
      svg.append("line").attr("x1", sx).attr("x2", sx).attr("y1", spineY).attr("y2", spineY - 6).attr("stroke", "#000").attr("stroke-width", 1.2);
    });
    rotLabel(x + 16, spineY + 6, [strikeTickLabels[0]], "#000");
    rotLabel(x + panelW + 6, spineY + 6, [strikeTickLabels[1]], "#000");
  }
  depthLabels(top);
  svg.append("text").attr("x", 395).attr("y", top + panelH + 118).attr("text-anchor", "middle")
    .attr("font-size", 21.4).text("Anisotropy in resistivity (grey) and");
  svg.append("text").attr("x", 393).attr("y", top + panelH + 143).attr("text-anchor", "middle")
    .attr("font-size", 21.4).text("Strike angle of minimum resistivity (black) (\u02DA )");
}

resRow(64, resMinA, resMaxA, [cyanA, oliveA, blueA, redA], "Profile A");
aniRow(380, anisoA, strikeA);
resRow(828.3, resMinB, resMaxB, [cyanB, oliveB, blueB, redB], "Profile B");
aniRow(1143.3, anisoB, strikeB);
</script>
</body>
</html>
